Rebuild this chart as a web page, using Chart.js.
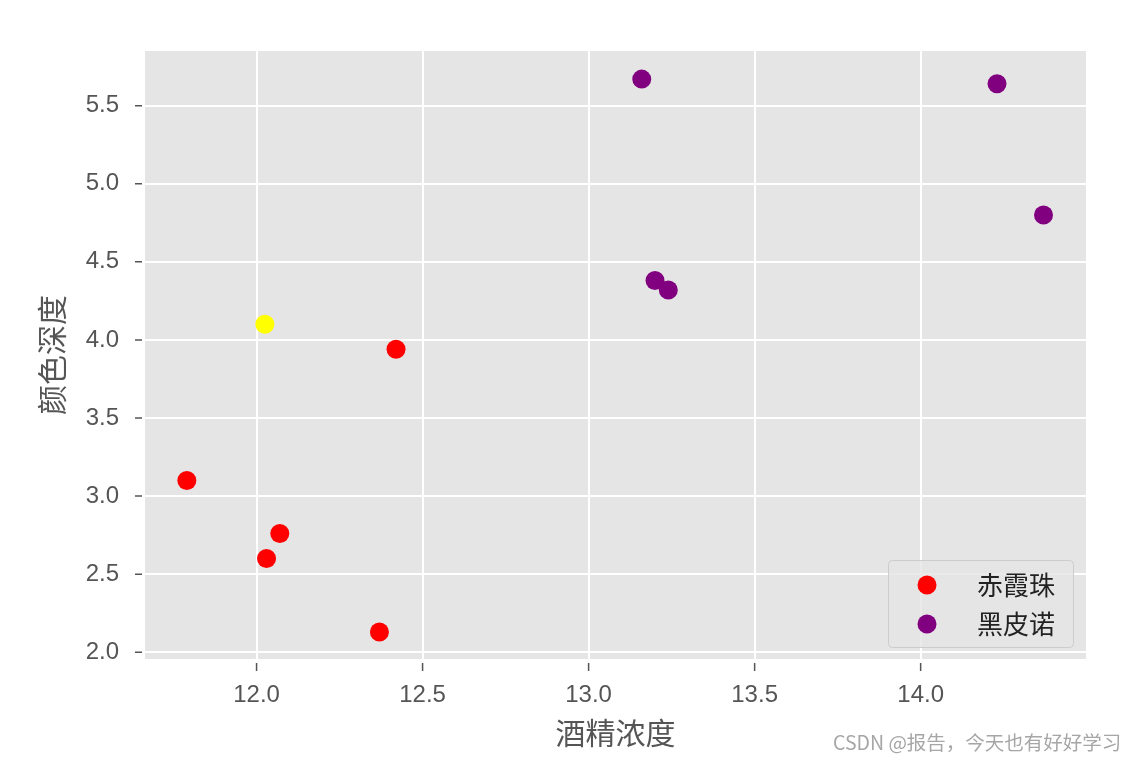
<!DOCTYPE html>
<html>
<head>
<meta charset="utf-8">
<script src="https://cdn.jsdelivr.net/npm/chart.js@4.4.0/dist/chart.umd.min.js"></script>
<style>
  body { margin: 0; background: #fff; }
  #wrap { position: relative; width: 1137px; height: 759px; }
  #mark {
    position: absolute; left: 833px; top: 727px;
    font: 19.5px "Noto Sans CJK SC", sans-serif; color: #a6a6a6; white-space: nowrap;
  }
</style>
</head>
<body>
<div id="wrap">
  <canvas id="wine-chart" width="1137" height="759"></canvas>
  <div id="mark">CSDN @报告，今天也有好好学习</div>
</div>
<script>
// 赤霞珠
const redX = [11.79, 12.07, 12.03, 12.37, 12.42];
const redY = [3.10, 2.76, 2.60, 2.13, 3.94];
// 黑皮诺
const purpleX = [13.16, 14.23, 14.37, 13.20, 13.24];
const purpleY = [5.67, 5.64, 4.80, 4.38, 4.32];
// new sample, no legend entry
const yellowX = [12.025];
const yellowY = [4.10];

const xRange = [11.664, 14.498];
const yRange = [1.957, 5.85];

const seriesNames = ['赤霞珠', '黑皮诺'];
const xTitle = '酒精浓度';
const yTitle = '颜色深度';

function toPoints(xs, ys) {
    return xs.map((x, i) => ({ x: x, y: ys[i] }));
}

const ctx1 = document.getElementById('wine-chart').getContext('2d');

// grey panel behind the plot
const panelBg = {
    id: 'panelBg',
    beforeDraw(chart) {
        const a = chart.chartArea;
        const c = chart.ctx;
        c.save();
        c.fillStyle = '#e5e5e5';
        c.fillRect(a.left, a.top, a.right - a.left, a.bottom - a.top);
        c.restore();
    }
};

// small tick marks sitting a bit away from the panel
const tickMarks = {
    id: 'tickMarks',
    afterDraw(chart) {
        const a = chart.chartArea;
        const c = chart.ctx;
        const xs = chart.scales.x, ys = chart.scales.y;
        c.save();
        c.strokeStyle = '#555';
        c.lineWidth = 1.5;
        c.beginPath();
        xs.ticks.forEach(t => {
            const px = xs.getPixelForValue(t.value);
            c.moveTo(px, a.bottom + 4);
            c.lineTo(px, a.bottom + 12);
        });
        ys.ticks.forEach(t => {
            const py = ys.getPixelForValue(t.value);
            c.moveTo(a.left - 10, py);
            c.lineTo(a.left - 3, py);
        });
        c.stroke();
        c.restore();
    }
};

// legend box inside the lower right corner
const boxLegend = {
    id: 'boxLegend',
    afterDraw(chart) {
        const a = chart.chartArea;
        const c = chart.ctx;
        const items = chart.data.datasets.filter(d => d.label);
        const w = 185, rowH = 39;
        const h = 48 + rowH * (items.length - 1);
        const x0 = a.right - 13 - w;
        const y0 = a.bottom - 12 - h;
        c.save();
        c.fillStyle = 'rgba(229,229,229,0.8)';
        c.strokeStyle = '#cccccc';
        c.lineWidth = 1;
        c.beginPath();
        c.roundRect(x0 + 0.5, y0 + 0.5, w, h, 4);
        c.fill();
        c.stroke();
        c.font = '26px "Noto Sans CJK SC", sans-serif';
        c.textBaseline = 'middle';
        items.forEach((d, i) => {
            const cy = y0 + 25 + i * rowH;
            c.fillStyle = d.backgroundColor;
            c.beginPath();
            c.arc(x0 + 39, cy, 9.5, 0, Math.PI * 2);
            c.fill();
            c.fillStyle = '#222';
            c.fillText(d.label, x0 + 89, cy);
        });
        c.restore();
    }
};

const tickFont = { family: '"Liberation Sans", Arial, sans-serif', size: 24 };
const titleFont = { family: '"Noto Sans CJK SC", sans-serif', size: 30 };

new Chart(ctx1, {
    type: 'scatter',
    data: {
        datasets: [
            {
                label: seriesNames[0],
                data: toPoints(redX, redY),
                backgroundColor: 'red',
                pointRadius: 9.5,
                borderWidth: 0
            },
            {
                label: seriesNames[1],
                data: toPoints(purpleX, purpleY),
                backgroundColor: 'purple',
                pointRadius: 9.5,
                borderWidth: 0
            },
            {
                data: toPoints(yellowX, yellowY),
                backgroundColor: 'yellow',
                pointRadius: 9.5,
                borderWidth: 0
            }
        ]
    },
    options: {
        responsive: false,
        animation: false,
        layout: { padding: { top: 51, right: 51, bottom: 0, left: 0 } },
        plugins: {
            legend: { display: false },
            tooltip: { enabled: false }
        },
        scales: {
            x: {
                type: 'linear',
                min: xRange[0],
                max: xRange[1],
                afterFit: s => { s.height = 100; },
                border: { display: false },
                grid: { color: '#ffffff', lineWidth: 2, drawTicks: false },
                ticks: {
                    stepSize: 0.5,
                    includeBounds: false,
                    padding: 22,
                    color: '#555',
                    font: tickFont,
                    callback: v => v.toFixed(1)
                },
                title: {
                    display: true,
                    text: xTitle,
                    color: '#555',
                    font: titleFont,
                    padding: { top: 0, bottom: 8 }
                }
            },
            y: {
                type: 'linear',
                min: yRange[0],
                max: yRange[1],
                afterFit: s => { s.width = 145; },
                border: { display: false },
                grid: { color: '#ffffff', lineWidth: 2, drawTicks: false },
                ticks: {
                    stepSize: 0.5,
                    includeBounds: false,
                    padding: 26,
                    color: '#555',
                    font: tickFont,
                    callback: v => v.toFixed(1)
                },
                title: {
                    display: true,
                    text: yTitle,
                    color: '#555',
                    font: titleFont,
                    padding: { top: 34, bottom: 0 }
                }
            }
        }
    },
    plugins: [panelBg, tickMarks, boxLegend]
});
</script>
</body>
</html>
